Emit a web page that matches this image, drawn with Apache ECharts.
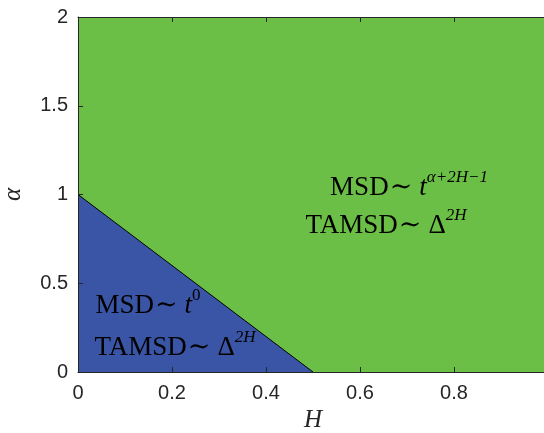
<!DOCTYPE html>
<html>
<head>
<meta charset="utf-8">
<script src="https://cdn.jsdelivr.net/npm/echarts@6/dist/echarts.min.js"></script>
<style>html,body{margin:0;padding:0;background:#fff}#c{width:544px;height:433px}</style>
</head>
<body>
<div id="c"></div>
<script>
// Region boundary: alpha = 1 - 2H (from H=0 to H=0.5)
const boundaryH = [0, 0.5];
const boundaryAlpha = [1, 0];
// Upper region (whole domain)
const fullH = [0, 1];
const fullAlpha = [2, 2];
const xTicks = [0, 0.2, 0.4, 0.6, 0.8, 1];
const yTicks = [0, 0.5, 1, 1.5, 2];

const green = '#6cbf46';
const blue = '#3a55a5';
const axisCol = '#262626';
const serif = '"Liberation Serif", "DejaVu Serif", serif';
const sans = '"Liberation Sans", Arial, sans-serif';

const chart = echarts.init(document.getElementById('c'), null, {renderer: 'canvas'});

const rich = {
  m: {fontFamily: serif, fontSize: 27, color: '#000', lineHeight: 32, verticalAlign: 'bottom'},
  t: {fontFamily: serif, fontSize: 27, color: '#000', lineHeight: 32, verticalAlign: 'bottom', padding: [0, 7, 0, 1]},
  i: {fontFamily: serif, fontSize: 27, fontStyle: 'italic', color: '#000', lineHeight: 32, verticalAlign: 'bottom'},
  s: {fontFamily: serif, fontSize: 17, fontStyle: 'italic', color: '#000', lineHeight: 24, verticalAlign: 'top'},
  sn: {fontFamily: serif, fontSize: 17, color: '#000', lineHeight: 24, verticalAlign: 'top'}
};

function txt(x, y, str) {
  return {type: 'text', x: x, y: y, style: {text: str, rich: rich, align: 'center', verticalAlign: 'middle'}, z: 100};
}

chart.setOption({
  animation: false,
  grid: {left: 78, top: 17, width: 470, height: 355, outerBoundsMode: 'none', containLabel: false},
  xAxis: [{
    type: 'value', min: 0, max: 1, interval: 0.2, z: 10,
    axisLine: {show: true, lineStyle: {color: axisCol, width: 1}},
    axisTick: {show: true, inside: true, length: 5, lineStyle: {color: axisCol}},
    axisLabel: {fontFamily: sans, fontSize: 20, color: axisCol, margin: 11,
      formatter: v => String(+v.toFixed(1))},
    splitLine: {show: false},
    name: 'H', nameLocation: 'middle', nameGap: 34,
    nameTextStyle: {fontFamily: serif, fontStyle: 'italic', fontSize: 25, color: axisCol}
  }, {
    type: 'value', min: 0, max: 1, interval: 0.2, position: 'top', z: 10,
    axisLine: {show: true, lineStyle: {color: axisCol, width: 1}},
    axisTick: {show: true, inside: true, length: 5, lineStyle: {color: axisCol}},
    axisLabel: {show: false}, splitLine: {show: false}
  }],
  yAxis: {
    type: 'value', min: 0, max: 2, interval: 0.5, z: 10,
    axisLine: {show: true, lineStyle: {color: axisCol, width: 1}},
    axisTick: {show: true, inside: true, length: 5, lineStyle: {color: axisCol}},
    axisLabel: {fontFamily: sans, fontSize: 20, color: axisCol, margin: 10,
      formatter: v => String(v)},
    splitLine: {show: false},
    name: 'α', nameLocation: 'middle', nameGap: 52, nameRotate: 90,
    nameTextStyle: {fontFamily: serif, fontStyle: 'italic', fontSize: 25, color: axisCol}
  },
  series: [{
    type: 'line', showSymbol: false, z: 1,
    data: fullH.map((h, k) => [h, fullAlpha[k]]),
    lineStyle: {width: 0},
    areaStyle: {color: green, opacity: 1, origin: 'start'}
  }, {
    type: 'line', showSymbol: false, z: 2,
    data: boundaryH.map((h, k) => [h, boundaryAlpha[k]]),
    lineStyle: {width: 1, color: '#000'},
    areaStyle: {color: blue, opacity: 1, origin: 'start'}
  }],
  graphic: [
    txt(409, 185, '{m|MSD}{t|∼}{i|t}{s|α+2H−1}'),
    txt(386, 223, '{m|TAMSD}{t|∼}{m|Δ}{s|2H}'),
    txt(148, 303, '{m|MSD}{t|∼}{i|t}{sn|0}'),
    txt(175, 345, '{m|TAMSD}{t|∼}{m|Δ}{s|2H}')
  ]
});
</script>
</body>
</html>
